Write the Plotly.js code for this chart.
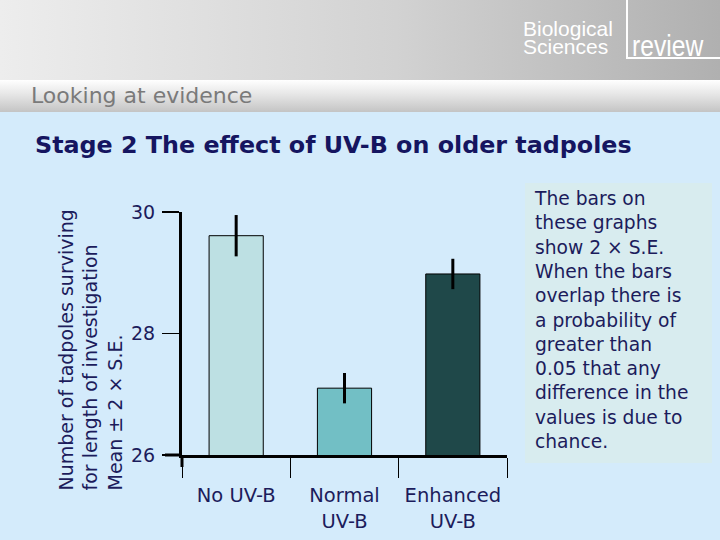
<!DOCTYPE html>
<html>
<head>
<meta charset="utf-8">
<script src="https://cdn.plot.ly/plotly-3.0.1.min.js"></script>
<style>
  body { margin: 0; }
  #page {
    position: relative; width: 720px; height: 540px; overflow: hidden;
    background: #d4ebfb; font-family: "DejaVu Sans", Verdana, sans-serif;
  }
  #top {
    position: absolute; left: 0; top: 0; width: 720px; height: 80px;
    background: linear-gradient(to right, #ededed 0%, #d2d2d2 55%, #b0b0b0 100%);
  }
  #band {
    position: absolute; left: 0; top: 80px; width: 720px; height: 32px;
    background: linear-gradient(to bottom, #ffffff 0%, #e6e6e6 45%, #c4c4c4 100%);
  }
  #band span {
    position: absolute; left: 31px; top: 3px; font-size: 22px; color: #7a7a7a;
  }
  #logo { position: absolute; left: 520px; top: 0; width: 200px; height: 62px; color: #fff;
    font-family: "Liberation Sans", Arial, sans-serif; }
  #logo .bio { position: absolute; left: 3px; font-size: 21px; line-height: 16px; }
  #logo .l1 { top: 21px; }
  #logo .l2 { top: 39px; }
  #logo .rev { position: absolute; left: 112px; top: 35px; font-size: 29px; line-height: 22px;
    transform: scaleX(0.85); transform-origin: left top; }
  #logo .br { position: absolute; left: 106px; top: 0; width: 94px; height: 57px;
    border-left: 2px solid #fff; border-bottom: 2px solid #fff; }
  #chart { position: absolute; left: 0; top: 0; }
</style>
</head>
<body>
<div id="page">
  <div id="top"></div>
  <div id="band"><span>Looking at evidence</span></div>
  <div id="logo">
    <div class="br"></div>
    <div class="bio l1">Biological</div>
    <div class="bio l2">Sciences</div>
    <div class="rev">review</div>
  </div>
  <div id="chart"></div>
</div>
<script>
// groupes et valeurs
var groupes = ["No UV-B", "Normal<br>UV-B", "Enhanced<br>UV-B"]
var moyennes = [29.61, 27.1, 28.98]
var erreurs = [0.34, 0.25, 0.25] // 2 x S.E.
var couleurs = ["#bde0e3", "#72bfc5", "#1f4849"]
var ticksY = [26, 28, 30]

var marine = "#1c1c5c"

var texteEncadre =
  "The bars on<br>these graphs<br>show 2 × S.E.<br>When the bars<br>overlap there is<br>" +
  "a probability of<br>greater than<br>0.05 that any<br>difference in the<br>values is due to<br>chance."

// pixels -> papier (zone de trace : x 182..507, y 212..455)
function px(x) { return (x - 182) / 325 }
function py(y) { return (455 - y) / 243 }

var data = [
  {
    type: "bar",
    x: groupes,
    y: moyennes,
    base: 0,
    width: 0.5,
    marker: { color: couleurs, line: { color: "#000", width: 1 } },
    error_y: {
      type: "data",
      array: erreurs,
      visible: true,
      color: "#000",
      thickness: 3,
      width: 0,
    },
    hoverinfo: "skip",
  },
]

var layout = {
  width: 720,
  height: 540,
  margin: { l: 182, r: 213, t: 212, b: 85 },
  paper_bgcolor: "rgba(0,0,0,0)",
  plot_bgcolor: "rgba(0,0,0,0)",
  showlegend: false,
  font: { family: "DejaVu Sans, Verdana, sans-serif", color: marine, size: 19 },
  xaxis: {
    type: "category",
    range: [-0.5, 2.5],
    showline: true,
    linecolor: "#000",
    linewidth: 3,
    ticks: "outside",
    tickson: "boundaries",
    ticklen: 20,
    tickwidth: 1,
    tickcolor: "#000",
    showgrid: false,
    zeroline: false,
    tickfont: { size: 19.5, color: marine },
    ticklabelstandoff: 21,
  },
  yaxis: {
    range: [26, 30],
    tickvals: ticksY,
    showline: true,
    linecolor: "#000",
    linewidth: 3,
    ticks: "outside",
    ticklen: 17,
    tickwidth: 1.5,
    tickcolor: "#000",
    showgrid: false,
    zeroline: false,
    tickfont: { size: 19, color: marine },
    ticklabelstandoff: 3,
  },
  shapes: [
    // prolongements des axes
    { type: "line", xref: "paper", yref: "paper", x0: px(165), x1: 0, y0: 0, y1: 0,
      line: { color: "#000", width: 3 } },
    { type: "line", xref: "paper", yref: "paper", x0: 0, x1: 0, y0: 0, y1: py(467),
      line: { color: "#000", width: 3 } },
    // encadre
    { type: "rect", xref: "paper", yref: "paper", x0: px(525), x1: px(712), y0: py(463), y1: py(183),
      fillcolor: "#d8ecef", line: { width: 0 }, layer: "below" },
  ],
  annotations: [
    {
      text: "<b>Stage 2 The effect of UV-B on older tadpoles</b>",
      xref: "paper", yref: "paper", x: px(33), y: py(145),
      xanchor: "left", yanchor: "middle", showarrow: false,
      font: { size: 23.8, color: "#151560" },
    },
    {
      text: "Number of tadpoles surviving<br>for length of investigation<br>Mean ± 2 × S.E.",
      xref: "paper", yref: "paper", x: px(90), y: py(493),
      xanchor: "center", yanchor: "bottom", textangle: -90, align: "left",
      showarrow: false, font: { size: 19, color: marine },
    },
    {
      text: texteEncadre,
      xref: "paper", yref: "paper", x: px(532), y: py(186),
      xanchor: "left", yanchor: "top", align: "left",
      showarrow: false, font: { size: 18.7, color: marine },
    },
  ],
}

Plotly.newPlot("chart", data, layout, { displayModeBar: false, staticPlot: true })
</script>
</body>
</html>
